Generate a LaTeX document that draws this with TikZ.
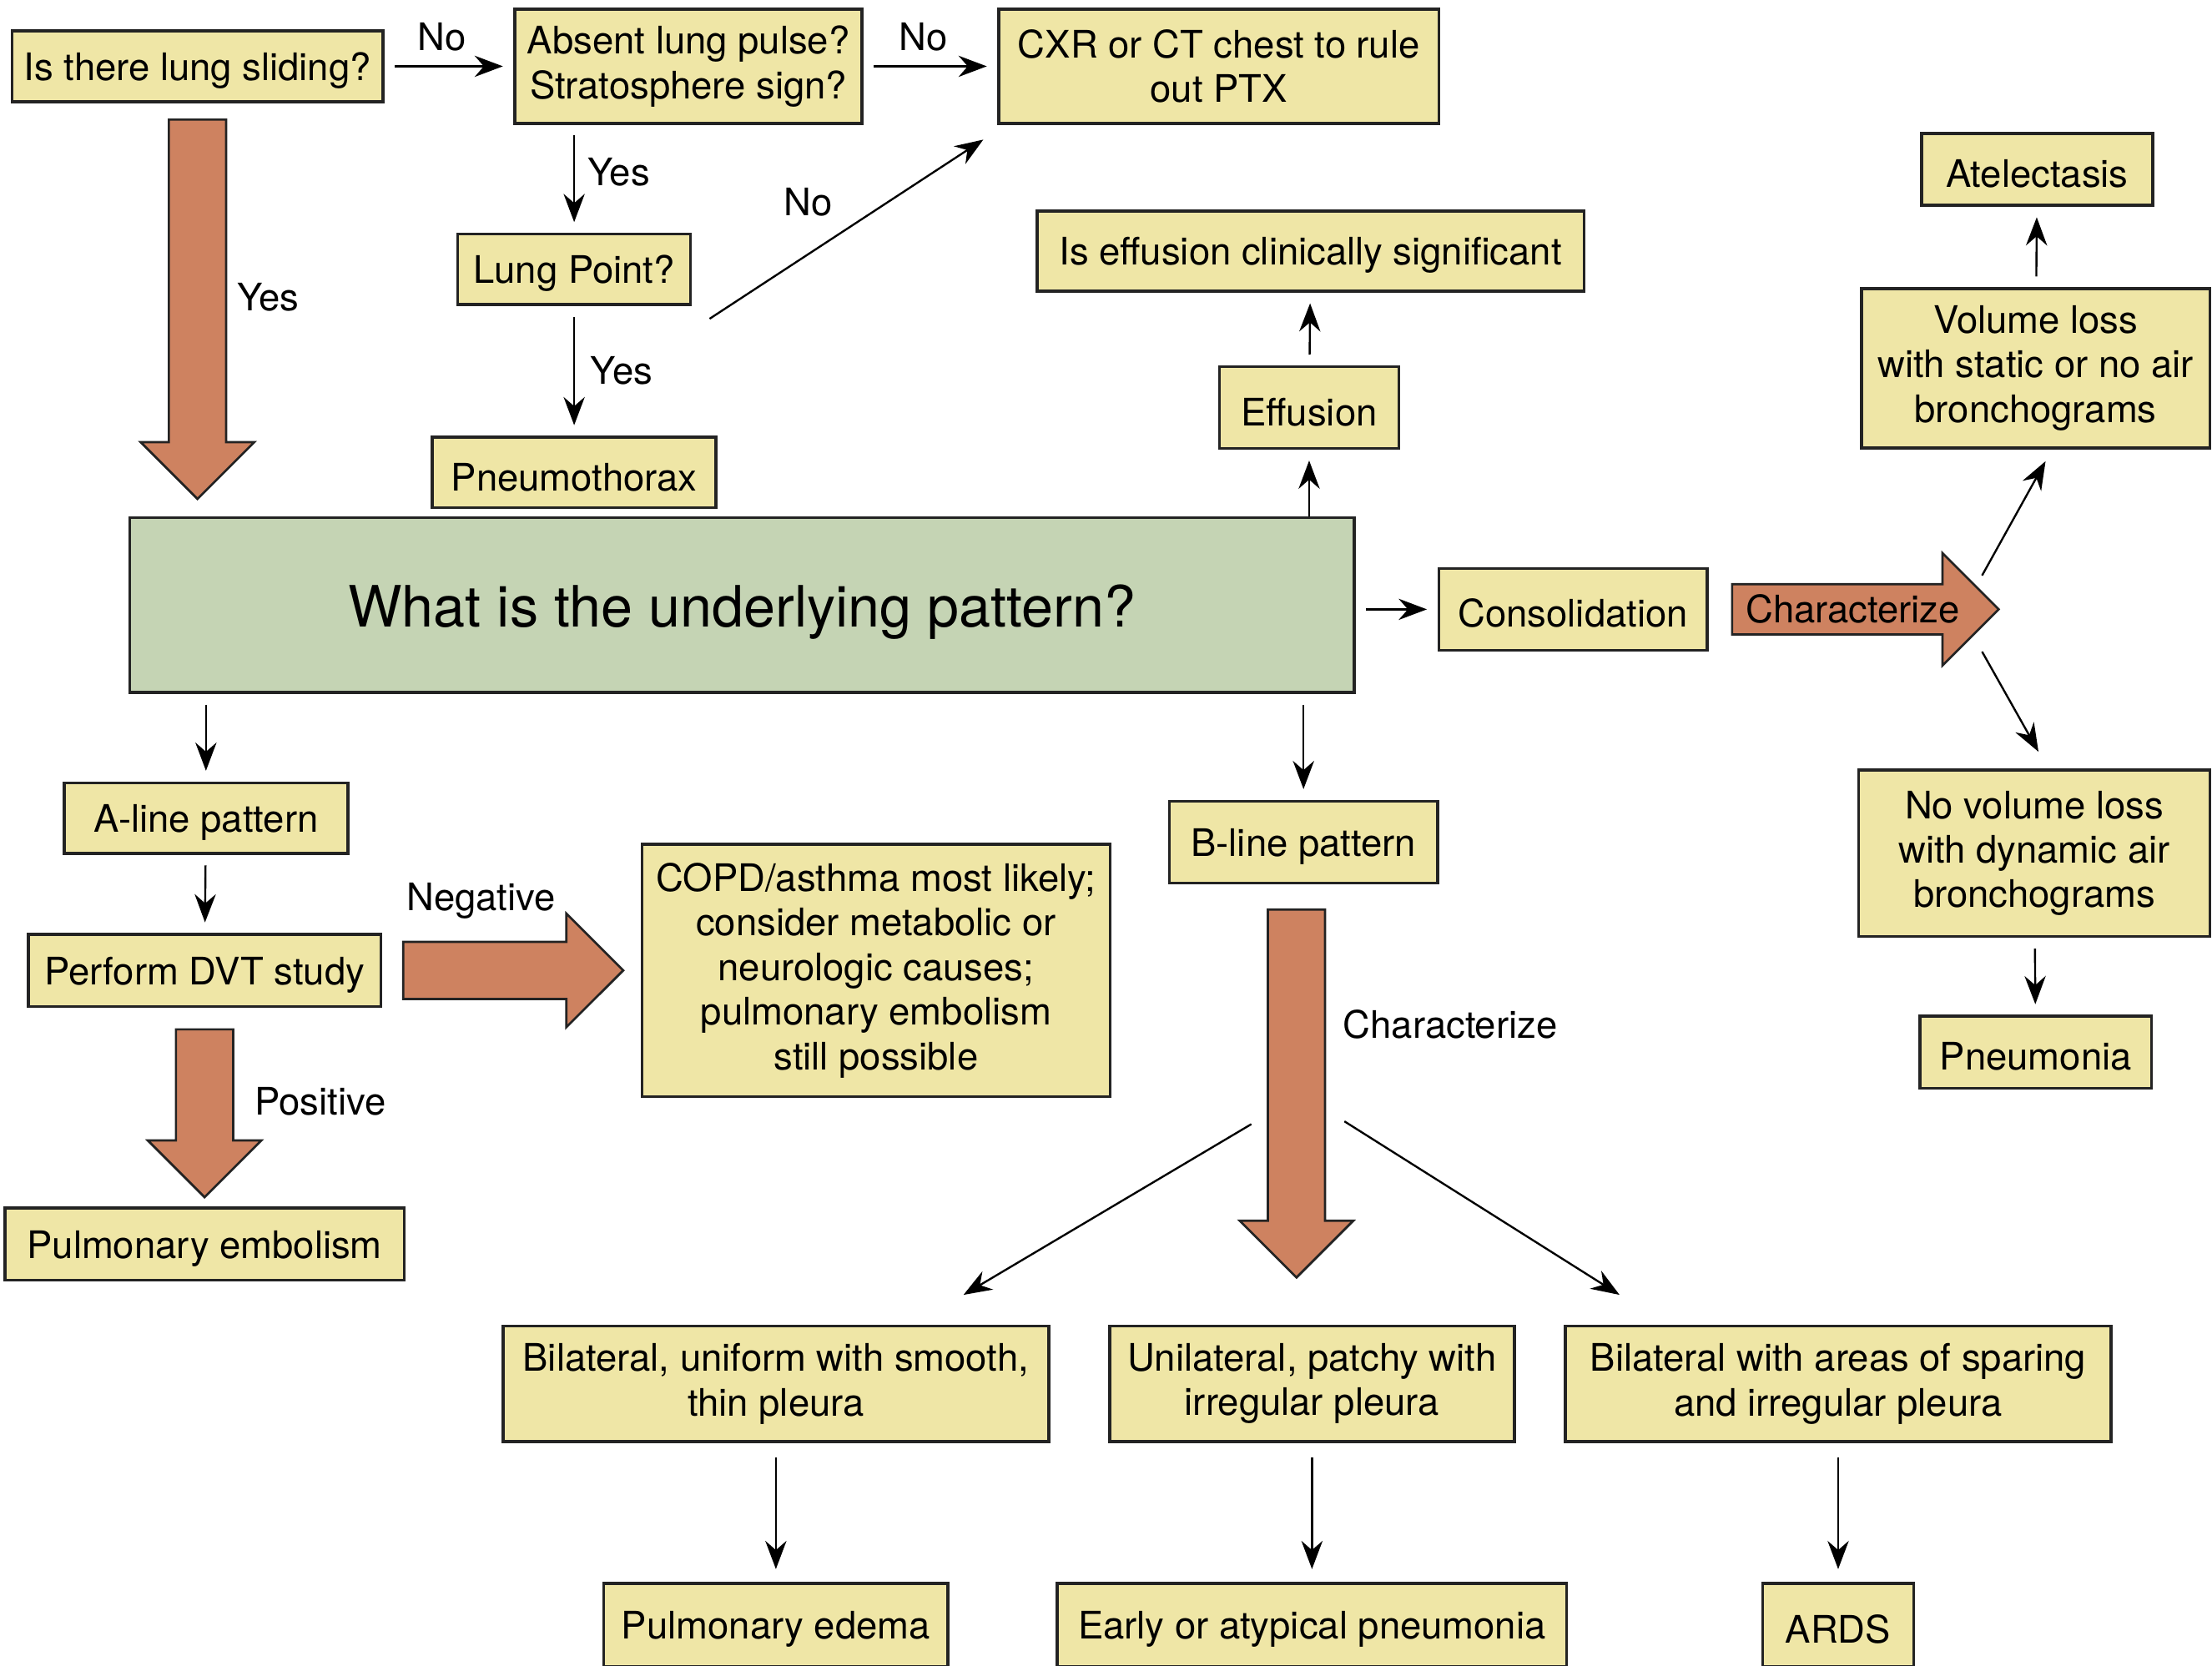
\documentclass[tikz,border=0pt]{standalone}
\usepackage{fontspec}
\setmainfont{TeX Gyre Heros}
\usetikzlibrary{arrows.meta,positioning,shapes.arrows}
\definecolor{boxyellow}{RGB}{239,230,166}
\definecolor{patterngreen}{RGB}{197,212,180}
\definecolor{fatorange}{RGB}{206,130,96}
\definecolor{edgegray}{RGB}{35,35,35}
\tikzset{
  flow box/.style={
    rectangle, draw=edgegray, line width=1.2pt,
    fill=boxyellow, align=center, inner sep=2pt,
    font=\fontsize{15.3}{18}\selectfont,
    execute at begin node={\rule{0pt}{0.52cm}}
  },
  flow label/.style={font=\fontsize{15.3}{18}\selectfont, inner sep=0pt},
  flow arrow/.style={-{Stealth[length=4mm,width=3mm]}, line width=0.8pt, black},
  flow link/.style={flow arrow, shorten <=0.15cm, shorten >=0.15cm},
  fat arrow/.style={
    single arrow, draw=edgegray, line width=0.9pt, fill=fatorange,
    inner xsep=0pt, inner ysep=0.39cm, single arrow head extend=0.4cm,
    single arrow tip angle=90, anchor=tail
  }
}

\begin{document}
\begin{tikzpicture}[x=0.02cm, y=-0.02cm]
    \useasboundingbox (0,0) rectangle (1568,1181);
    \node[flow box, minimum width=5.26cm, minimum height=1cm] (sliding) at (140,47) {Is there lung sliding?};
    \node[flow box, minimum width=4.92cm, minimum height=1.62cm] (absent) at (488,47) {Absent lung pulse?\\Stratosphere sign?};
    \node[flow box, minimum width=6.24cm, minimum height=1.62cm] (cxr) at (864,47) {CXR or CT chest to rule\\out PTX};
    \node[flow box, minimum width=3.3cm, minimum height=1cm] (lungpoint) at (407,191) {Lung Point?};
    \node[flow box, minimum width=4.02cm, minimum height=1cm] (pneumothorax) at (407,335) {Pneumothorax};
    \node[flow box, fill=patterngreen, minimum width=17.36cm, minimum height=2.48cm,
      font=\fontsize{23}{27}\selectfont, execute at begin node={\rule{0pt}{0.8cm}}] (pattern) at (526,429) {What is the underlying pattern?};
    \node[flow box, minimum width=7.76cm, minimum height=1.14cm] (significant) at (929,178) {Is effusion clinically significant};
    \node[flow box, minimum width=2.54cm, minimum height=1.16cm] (effusion) at (928,289) {Effusion};
    \node[flow box, minimum width=3.28cm, minimum height=1.02cm] (atelectasis) at (1444,120) {Atelectasis};
    \node[flow box, minimum width=4.94cm, minimum height=2.26cm] (volloss) at (1443,261) {Volume loss\\with static or no air\\bronchograms};
    \node[flow box, minimum width=3.8cm, minimum height=1.16cm] (consolidation) at (1115,432) {Consolidation};
    \node[flow box, minimum width=4.98cm, minimum height=2.36cm] (novolloss) at (1442,605) {No volume loss\\with dynamic air\\bronchograms};
    \node[flow box, minimum width=3.28cm, minimum height=1.02cm] (pneumonia) at (1443,746) {Pneumonia};
    \node[flow box, minimum width=4.02cm, minimum height=1cm] (aline) at (146,580) {A-line pattern};
    \node[flow box, minimum width=5cm, minimum height=1.02cm] (dvt) at (145,688) {Perform DVT study};
    \node[flow box, minimum width=5.66cm, minimum height=1.02cm] (embolism) at (145,882) {Pulmonary embolism};
    \node[flow box, minimum width=6.64cm, minimum height=3.58cm] (copd) at (621,688) {COPD/asthma most likely;\\consider metabolic or\\neurologic causes;\\pulmonary embolism\\still possible};
    \node[flow box, minimum width=3.8cm, minimum height=1.16cm] (bline) at (924,597) {B-line pattern};
    \node[flow box, minimum width=7.74cm, minimum height=1.64cm] (smooth) at (550,981) {Bilateral, uniform with smooth,\\thin pleura};
    \node[flow box, minimum width=5.74cm, minimum height=1.64cm] (patchy) at (930,981) {Unilateral, patchy with\\irregular pleura};
    \node[flow box, minimum width=7.74cm, minimum height=1.64cm] (sparing) at (1303,981) {Bilateral with areas of sparing\\and irregular pleura};
    \node[flow box, minimum width=4.88cm, minimum height=1.18cm] (edema) at (550,1152) {Pulmonary edema};
    \node[flow box, minimum width=7.22cm, minimum height=1.18cm] (early) at (930,1152) {Early or atypical pneumonia};
    \node[flow box, minimum width=2.14cm, minimum height=1.18cm] (ards) at (1303,1152) {ARDS};

    \node[fat arrow, rotate=-90, minimum height=5.38cm] (yesarrow) at (140,84) {};
    \node[fat arrow, minimum height=3.12cm] (negarrow) at (285,688) {};
    \node[fat arrow, rotate=-90, minimum height=2.38cm] (posarrow) at (145,729) {};
    \node[fat arrow, rotate=-90, minimum height=5.22cm] (blinearrow) at (919,644) {};
    \node[fat arrow, minimum height=3.78cm, single arrow head extend=0.44cm,
      inner xsep=0.12cm, inner ysep=0.14cm, text height=0.395cm, text depth=0.005cm,
      font=\fontsize{15.3}{18}\selectfont] (chararrow) at (1227,432) {Characterize};

    \node[flow label] (yeslabel) at (190,211) {Yes};
    \node[flow label] (neglabel) at (341,639) {Negative};
    \node[flow label] (poslabel) at (227,781) {Positive};
    \node[flow label] (charlabel) at (1028,726) {Characterize};
    \node[flow label] (nolabel) at (573,143) {No};

    \coordinate (nostart) at (503,226);
    \coordinate (noend) at (697,99);
    \coordinate (upfrom) at (1405,408);
    \coordinate (upto) at (1450,327);
    \coordinate (downfrom) at (1405,462);
    \coordinate (downto) at (1445,533);
    \coordinate (leftfrom) at (887,797);
    \coordinate (leftto) at (683,918);
    \coordinate (rightfrom) at (953,795);
    \coordinate (rightto) at (1148,918);

    \draw[flow link] (sliding) -- node[flow label, above=0.2cm, xshift=-0.1cm] {No} (absent);
    \draw[flow link] (absent) -- node[flow label, above=0.2cm, xshift=-0.1cm] {No} (cxr);
    \draw[flow link] (absent.south -| lungpoint.north) -- node[flow label, right=0.18cm, yshift=0.1cm] {Yes} (lungpoint.north);
    \draw[flow link] (lungpoint) -- node[flow label, right=0.22cm] {Yes} (pneumothorax);
    \draw[flow arrow] (nostart) -- (noend);
    \draw[flow link, shorten <=0pt] (pattern.north -| effusion.south) -- (effusion.south);
    \draw[flow link] (effusion) -- (significant);
    \draw[flow link] (pattern.east |- consolidation.west) -- (consolidation.west);
    \draw[flow arrow] (upfrom) -- (upto);
    \draw[flow arrow] (downfrom) -- (downto);
    \draw[flow link] (volloss) -- (atelectasis);
    \draw[flow link] (novolloss) -- (pneumonia);
    \draw[flow link] (pattern.south -| aline.north) -- (aline.north);
    \draw[flow link] (aline) -- (dvt);
    \draw[flow link] (pattern.south -| bline.north) -- (bline.north);
    \draw[flow arrow] (leftfrom) -- (leftto);
    \draw[flow arrow] (rightfrom) -- (rightto);
    \draw[flow link, shorten <=0.2cm, shorten >=0.18cm] (smooth) -- (edema);
    \draw[flow link, shorten <=0.2cm, shorten >=0.18cm] (patchy) -- (early);
    \draw[flow link, shorten <=0.2cm, shorten >=0.18cm] (sparing) -- (ards);
  \end{tikzpicture}
\end{document}
